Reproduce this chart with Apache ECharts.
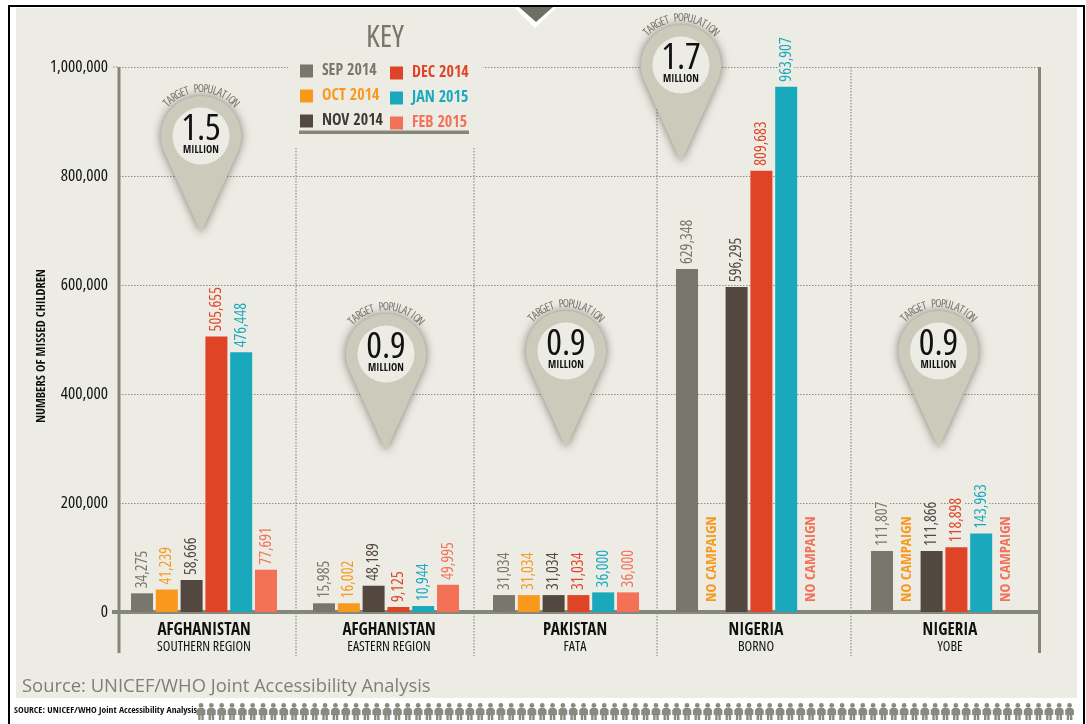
<!DOCTYPE html>
<html>
<head>
<meta charset="utf-8">
<style>html,body{margin:0;padding:0;background:#fff}#c{width:1086px;height:724px}</style>
<script src="https://cdn.jsdelivr.net/npm/echarts@6/dist/echarts.min.js"></script>
</head>
<body>
<div id="c"></div>
<script>
const countries = ['AFGHANISTAN','AFGHANISTAN','PAKISTAN','NIGERIA','NIGERIA'];
const regions = ['SOUTHERN REGION','EASTERN REGION','FATA','BORNO','YOBE'];
const months = ['SEP 2014','OCT 2014','NOV 2014','DEC 2014','JAN 2015','FEB 2015'];
const sep2014 = [34275,15985,31034,629348,111807];
const oct2014 = [41239,16002,31034,null,null];
const nov2014 = [58666,48189,31034,596295,111866];
const dec2014 = [505655,9125,31034,809683,118898];
const jan2015 = [476448,10944,36000,963907,143963];
const feb2015 = [77691,49995,36000,null,null];
const targetPopulation = ['1.5','0.9','0.9','1.7','0.9'];
const yTicks = [0,200000,400000,600000,800000,1000000];

const seriesValues = [sep2014,oct2014,nov2014,dec2014,jan2015,feb2015];
const colors = ['#77776B','#F8991D','#524840','#E04426','#1AA9BC','#F37157'];
const BG = '#ECECE5', AXIS = '#85867A', GRID = '#8E8E84';
const NARROW = '"Open Sans Condensed","Liberation Sans",sans-serif';
const REGULAR = '"Open Sans",sans-serif';
const COND = 'condensed';

const plotTop = 67, plotBottom = 612, plotLeft = 119, plotRight = 1039;
const groupCentres = [204,386,566,749,944];
const labelShift = [0,3,9,7,6];
const groupWidth = 170;
const dividers = [[296,148],[474,148],[657,67],[851,67]];
const pins = [[201,136],[386,354],[566,351],[681,65],[938.5,351]];

const grids = [{left:plotLeft,right:1086-plotRight,top:plotTop,bottom:724-plotBottom}];
const xAxes = [{gridIndex:0,type:'category',data:[''],
  axisLine:{show:true,onZero:true,lineStyle:{color:AXIS,width:4}},axisTick:{show:false},axisLabel:{show:false}}];
const yAxes = [{gridIndex:0,type:'value',min:0,max:1000000,interval:200000,
  axisLine:{show:false},axisTick:{show:false},
  axisLabel:{margin:11,color:'#111',fontFamily:REGULAR,fontStyle:COND,fontSize:17,padding:[8,0,0,0],
    formatter:v=>yTicks.includes(v)?v.toLocaleString('en-US'):''},
  splitLine:{show:true,lineStyle:{color:GRID,type:[1.5,1.5],width:1}},z:1}];
const series = [];

groupCentres.forEach((c,g)=>{
  const gi = g+1;
  grids.push({left:c-groupWidth/2,width:groupWidth,top:plotTop,bottom:724-plotBottom});
  xAxes.push({gridIndex:gi,type:'category',data:[countries[g]+'|'+regions[g]],
    axisLine:{show:false},axisTick:{show:false},
    axisLabel:{margin:10,interval:0,padding:[0,0,0,2*labelShift[g]],formatter:v=>{
      const p=v.split('|');return '{a|'+p[0]+'}\n{b|'+p[1]+'}';},
      rich:{a:{fontFamily:NARROW,fontWeight:'bold',fontSize:17,color:'#111',lineHeight:18,align:'center'},
            b:{fontFamily:REGULAR,fontStyle:COND,fontSize:14,color:'#111',lineHeight:15,align:'center'}}}});
  yAxes.push({gridIndex:gi,type:'value',min:0,max:1000000,interval:200000,show:false,splitLine:{show:false}});
  months.forEach((m,s)=>{
    const v = seriesValues[s][g];
    series.push({
      name:m,type:'bar',xAxisIndex:gi,yAxisIndex:gi,barWidth:22,barGap:'12.7%',z:3,
      itemStyle:{color:colors[s]},
      label:{show:true,position:'top',rotate:90,align:'left',verticalAlign:'middle',distance:4,
        color:colors[s],fontFamily:REGULAR,fontStyle:COND,fontSize:16,backgroundColor:BG,padding:[0,1],
        formatter:p=>p.value.toLocaleString('en-US')},
      data:[v===null?{value:0,label:{formatter:'NO CAMPAIGN',fontFamily:NARROW,fontStyle:'normal',fontWeight:'bold',fontSize:15,distance:9,backgroundColor:'transparent'}}:v]
    });
  });
});

const graphic = [];
const rect=(x,y,w,h,fill,z)=>graphic.push({type:'rect',silent:true,z:z,shape:{x,y,width:w,height:h},style:{fill}});
const line=(x1,y1,x2,y2,stroke,w,dash,z)=>graphic.push({type:'line',silent:true,z:z,shape:{x1,y1,x2,y2},style:{stroke,lineWidth:w,lineDash:dash||null}});
const text=(x,y,t,font,fill,align,z,rotation)=>graphic.push({type:'text',silent:true,z:z,x,y,rotation:rotation||0,
  style:{text:t,font,fill,align:align||'center',verticalAlign:'middle'}});

// frame and panel (behind the chart)
rect(8,5,1077,719,'#000',-10);
rect(10,7,1073,717,'#fff',-10);
rect(16,8,1061,690,BG,-9);
// notch
graphic.push({type:'polygon',silent:true,z:-8,shape:{points:[[514,7],[557,7],[535,28]]},style:{fill:'#fff'}});
graphic.push({type:'polygon',silent:true,z:-8,shape:{points:[[519,7],[553,7],[536,22]]},style:{fill:'#6E6F63'}});
// axis frame extensions and dotted dividers
line(119,67,119,653,AXIS,3,null,2);
line(1039.5,67,1039.5,653,AXIS,3,null,2);
line(112,612,119,612,AXIS,4,null,2);
dividers.forEach(d=>line(d[0],d[1],d[0],656,GRID,1.2,[1.5,1.5],2));
line(113,67,119,67,GRID,1,[1.5,1.5],2);
// key
rect(288,20,195,122,BG,4);
text(385,38,'KEY','condensed 31px '+REGULAR,'#77776B','center',5);
rect(299,130.5,170,3.5,'#85867A',5);

// outline of a pin: head arc plus straight tangents down to the tip
const pinOutline = (cx,cy)=>{
  const pts=[], R=40, tip=97, limit=Math.PI-Math.acos(R/tip);
  for(let k=0;k<=48;k++){
    const t=-limit+2*limit*k/48;
    pts.push([cx+R*Math.sin(t),cy-R*Math.cos(t)]);
  }
  pts.push([cx,cy+tip]);
  return pts;
};
// target-population pins
pins.forEach((p,i)=>{
  const [cx,cy]=p;
  graphic.push({type:'polygon',silent:true,z:6,shape:{points:pinOutline(cx,cy)},
    style:{fill:'#CCCBBB',shadowBlur:10,shadowColor:'rgba(60,60,50,0.65)'}});
  graphic.push({type:'circle',silent:true,z:7,shape:{cx,cy,r:28.5},style:{fill:BG}});
  text(cx,cy-7,targetPopulation[i],'condensed 37px '+REGULAR,'#111','center',8);
  text(cx,cy+14.5,'MILLION','bold 10.5px '+NARROW,'#111','center',8);
  const label='TARGET POPULATION', n=label.length, spread=1.62, r=47;
  for(let k=0;k<n;k++){
    const a=-spread/2+spread*k/(n-1);
    text(cx+r*Math.sin(a),cy-r*Math.cos(a),label[k],'condensed 11.5px '+REGULAR,'#77776B','center',8,-a);
  }
});

// source lines
text(22,687,'Source: UNICEF/WHO Joint Accessibility Analysis','18.4px "Open Sans",sans-serif','#7F7F78','left',5);
text(14,710,'SOURCE: UNICEF/WHO Joint Accessibility Analysis','bold 9.6px '+NARROW,'#111','left',5);
for(let x=201;x<1076;x+=10.34){
  const y=703;
  graphic.push({type:'circle',silent:true,z:5,shape:{cx:x,cy:y+2.4,r:2.4},style:{fill:'#8A8B80'}});
  graphic.push({type:'polygon',silent:true,z:5,shape:{points:[[x-2.5,y+5],[x+2.5,y+5],[x+4.4,y+7],[x+4.4,y+12],[x+2.8,y+12],[x+2.8,y+17],[x+0.4,y+17],[x+0.4,y+12.5],[x-0.4,y+12.5],[x-0.4,y+17],[x-2.8,y+17],[x-2.8,y+12],[x-4.4,y+12],[x-4.4,y+7]]},style:{fill:'#8A8B80'}});
}
// y-axis title as rotated text
text(42,346,'NUMBERS OF MISSED CHILDREN','bold 12.5px '+NARROW,'#111','center',5,Math.PI/2);

const legendBase = {orient:'vertical',icon:'rect',itemWidth:13,itemHeight:13,itemGap:9,selectedMode:false,z:6,padding:0};
const legendItems = idx=>idx.map(i=>({name:months[i],textStyle:{color:i===0?'#77776B':(i===2?'#3f3a33':colors[i]),fontFamily:NARROW,fontWeight:'bold',fontSize:16,padding:[0,0,0,4]}}));

const option = {
  backgroundColor:'#fff',animation:false,
  grid:grids,xAxis:xAxes,yAxis:yAxes,series,graphic,
  legend:[
    Object.assign({},legendBase,{left:300,top:63,data:legendItems([0,1,2])}),
    Object.assign({},legendBase,{left:390,top:65,data:legendItems([3,4,5])})
  ]
};

echarts.init(document.getElementById('c'),null,{renderer:'canvas'}).setOption(option);
</script>
</body>
</html>
